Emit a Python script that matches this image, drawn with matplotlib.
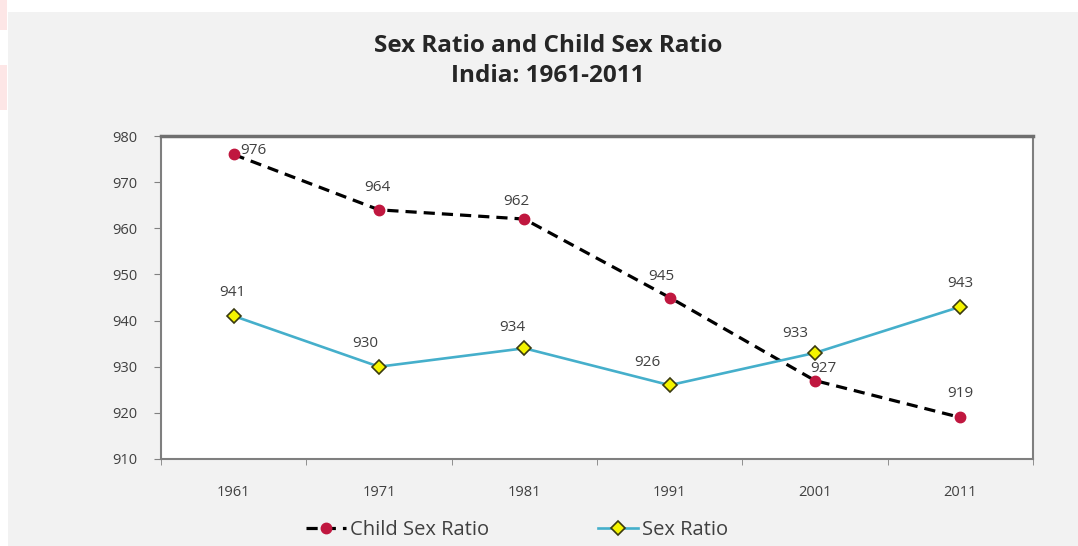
import matplotlib.pyplot as plt
from matplotlib.patches import Rectangle

# census years and the two ratios (females per 1000 males)
years = ["1961", "1971", "1981", "1991", "2001", "2011"]
child_sex_ratio = [976, 964, 962, 945, 927, 919]
sex_ratio = [941, 930, 934, 926, 933, 943]
y_ticks = [910, 920, 930, 940, 950, 960, 970, 980]

# label offsets in points, picked so the numbers don't sit on the lines
child_offsets = [(14, 3), (-1, 16), (-6, 13), (-6, 15), (6, 9), (0, 17)]
sex_offsets = [(-1, 17), (-10, 17), (-9, 15), (-16, 16), (-14, 14), (0, 17)]

plt.rcParams['font.family'] = ['Open Sans', 'DejaVu Sans']

fig = plt.figure(figsize=(10.78, 5.46), dpi=100, facecolor="white")
# grey chart area, leaves a thin white margin top and left
fig.patches.append(Rectangle((8/1078, 0), 1 - 8/1078, 1 - 12/546,
                             transform=fig.transFigure, facecolor="#f2f2f2",
                             edgecolor="none", zorder=-10))
fig.patches.append(Rectangle((0, 1 - 30/546), 7/1078, 30/546, transform=fig.transFigure,
                             facecolor="#fde6e6", edgecolor="none", zorder=-10))
fig.patches.append(Rectangle((0, 1 - 110/546), 7/1078, 45/546, transform=fig.transFigure,
                             facecolor="#fde6e6", edgecolor="none", zorder=-10))

ax = fig.add_axes([161/1078, 1 - 459/546, 872/1078, 323/546])
ax.set_facecolor("white")

x = list(range(len(years)))
ax.plot(x, child_sex_ratio, color="black", linestyle=(0, (3.5, 2.2)), linewidth=2.3,
        marker="o", markersize=7.5, markerfacecolor="#c0173f", markeredgecolor="#c0173f",
        label="Child Sex Ratio", zorder=3)
ax.plot(x, sex_ratio, color="#45afcb", linewidth=1.9,
        marker="D", markersize=7.5, markerfacecolor="#f4f400", markeredgecolor="#3a3a10",
        markeredgewidth=1.2, label="Sex Ratio", zorder=4)

for i, v in enumerate(child_sex_ratio):
    ax.annotate(str(v), (i, v), xytext=child_offsets[i], textcoords="offset points",
                ha="center", va="center", fontsize=11, color="#404040", zorder=5)
for i, v in enumerate(sex_ratio):
    ax.annotate(str(v), (i, v), xytext=sex_offsets[i], textcoords="offset points",
                ha="center", va="center", fontsize=11, color="#404040", zorder=5)

ax.set_xlim(-0.5, len(years) - 0.5)
ax.set_ylim(910, 980)
ax.set_yticks(y_ticks)
ax.set_yticklabels([str(t) for t in y_ticks], fontsize=10.5, color="#404040")
ax.set_xticks(x)
ax.set_xticklabels(years, fontsize=10.5, color="#404040")
ax.tick_params(axis="x", length=0, pad=19)
ax.set_xticks([i + 0.5 for i in range(-1, len(years))], minor=True)
ax.tick_params(axis="x", which="minor", length=4, color="#808080", direction="out")
ax.tick_params(axis="y", length=5, color="#808080", direction="out", pad=12)

for side in ["left", "bottom", "right"]:
    ax.spines[side].set_color("#7f7f7f")
    ax.spines[side].set_linewidth(1.5)
ax.spines["top"].set_color("#6f6f6f")
ax.spines["top"].set_linewidth(2.5)

fig.text(548/1078, 1 - 46/546, "Sex Ratio and Child Sex Ratio", ha="center", va="center",
         fontsize=17.5, fontweight="bold", color="#262626")
fig.text(548/1078, 1 - 76/546, "India: 1961-2011", ha="center", va="center",
         fontsize=17.5, fontweight="bold", color="#262626")

fig.legend(loc="center", bbox_to_anchor=(517/1078, 1 - 530/546), ncol=2, frameon=False,
           fontsize=14.5, labelcolor="#404040", columnspacing=5.4, handlelength=2.0,
           handletextpad=0.2)

fig.savefig("out.png", dpi=100, facecolor=fig.get_facecolor())
